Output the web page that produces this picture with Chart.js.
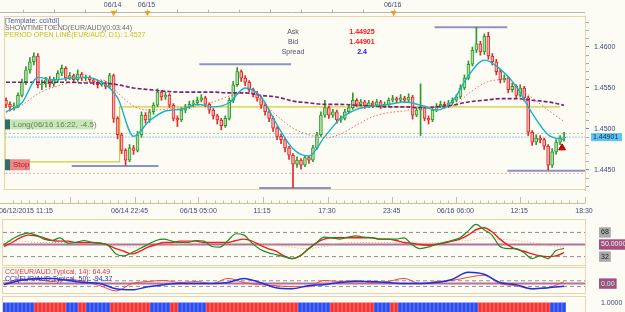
<!DOCTYPE html>
<html>
<head>
<meta charset="utf-8">
<script src="https://cdn.jsdelivr.net/npm/chart.js@4.4.1/dist/chart.umd.min.js"></script>
<style>
html, body { margin: 0; padding: 0; width: 625px; height: 312px; overflow: hidden; background: #fdfcf4; font-family: "Liberation Sans", Arial, sans-serif; }
canvas { position: absolute; left: 0; }
.t { position: absolute; font-size: 7px; line-height: 8px; white-space: nowrap; }
.c { text-align: center; }
</style>
</head>
<body>
<canvas id="main" width="625" height="216" style="top:0"></canvas>
<canvas id="tdi" width="625" height="47" style="top:219px"></canvas>
<canvas id="cci" width="625" height="27" style="top:267px"></canvas>
<canvas id="strip" width="625" height="24" style="top:296px"></canvas>

<div class="t" style="left:5px;top:17px;color:#4a58a8">[Template: cci/tdi]</div>
<div class="t" style="left:5px;top:24px;color:#6a6a6a">SHOWTIMETOEND(EUR/AUD)(0:03:44)</div>
<div class="t" style="left:5px;top:31px;color:#c4bf12">PERIOD OPEN LINE(EUR/AUD, D1): 1.4527</div>
<div class="t c" style="left:273px;width:40px;top:28px;color:#505068">Ask</div>
<div class="t c" style="left:273px;width:40px;top:38px;color:#505068">Bid</div>
<div class="t c" style="left:273px;width:40px;top:48px;color:#505068">Spread</div>
<div class="t c" style="left:337px;width:50px;top:28px;color:#ff1414;font-weight:bold">1.44925</div>
<div class="t c" style="left:337px;width:50px;top:38px;color:#ff1414;font-weight:bold">1.44901</div>
<div class="t c" style="left:337px;width:50px;top:48px;color:#1414ff;font-weight:bold">2.4</div>
<div class="t" style="left:5px;top:268px;color:#e03434">CCI(EUR/AUD,Typical, 14): 64.49</div>
<div class="t" style="left:5px;top:275px;color:#2233c8">CCI(EUR/AUD,Typical, 50): -94.37</div>

<script>
// data (M15 candles, one every 4 px)

const firstOpen = 1.4535;
const closes = [
  1.4530,1.4527,1.4528,1.4541,1.4557,1.4572,1.4582,1.4589,1.4554,1.4555,
  1.4560,1.4555,1.4560,1.4568,1.4574,1.4562,1.4565,1.4560,1.4567,1.4562,
  1.4563,1.4560,1.4557,1.4554,1.4556,1.4552,1.4565,1.4513,1.4493,1.4474,
  1.4462,1.4477,1.4474,1.4493,1.4517,1.4511,1.4521,1.4529,1.4545,1.4539,
  1.4541,1.4529,1.4513,1.4511,1.4523,1.4527,1.4530,1.4532,1.4535,1.4538,
  1.4530,1.4523,1.4516,1.4511,1.4504,1.4513,1.4535,1.4554,1.4570,1.4562,
  1.4557,1.4548,1.4543,1.4538,1.4529,1.4521,1.4513,1.4501,1.4491,1.4487,
  1.4477,1.4468,1.4457,1.4462,1.4456,1.4465,1.4462,1.4477,1.4493,1.4517,
  1.4526,1.4517,1.4521,1.4511,1.4513,1.4521,1.4526,1.4535,1.4530,1.4533,
  1.4528,1.4532,1.4529,1.4533,1.4528,1.4530,1.4535,1.4537,1.4535,1.4538,
  1.4535,1.4539,1.4517,1.4523,1.4526,1.4513,1.4511,1.4523,1.4528,1.4530,
  1.4528,1.4532,1.4535,1.4539,1.4550,1.4562,1.4579,1.4596,1.4604,1.4594,
  1.4613,1.4589,1.4582,1.4570,1.4560,1.4562,1.4548,1.4552,1.4541,1.4550,
  1.4538,1.4496,1.4484,1.4489,1.4487,1.4479,1.4456,1.4472,1.4484,1.4489,
  1.4490
];
const highs = [
  1.4538,1.4533,1.4532,1.4544,1.4561,1.4576,1.4587,1.4593,1.4592,1.4560,
  1.4563,1.4564,1.4563,1.4571,1.4578,1.4576,1.4569,1.4567,1.4572,1.4569,
  1.4566,1.4565,1.4562,1.4559,1.4559,1.4558,1.4568,1.4567,1.4515,1.4495,
  1.4476,1.4481,1.4480,1.4497,1.4521,1.4520,1.4524,1.4532,1.4549,1.4547,
  1.4545,1.4543,1.4531,1.4516,1.4526,1.4530,1.4534,1.4535,1.4539,1.4542,
  1.4540,1.4532,1.4525,1.4518,1.4513,1.4516,1.4538,1.4558,1.4575,1.4572,
  1.4565,1.4559,1.4550,1.4546,1.4540,1.4531,1.4523,1.4515,1.4503,1.4494,
  1.4489,1.4479,1.4470,1.4466,1.4464,1.4468,1.4467,1.4480,1.4496,1.4521,
  1.4535,1.4528,1.4524,1.4523,1.4516,1.4524,1.4529,1.4544,1.4537,1.4536,
  1.4535,1.4535,1.4534,1.4536,1.4535,1.4533,1.4538,1.4541,1.4539,1.4542,
  1.4540,1.4543,1.4541,1.4526,1.4555,1.4528,1.4516,1.4526,1.4531,1.4534,
  1.4533,1.4535,1.4538,1.4542,1.4554,1.4566,1.4583,1.4600,1.4624,1.4607,
  1.4616,1.4618,1.4592,1.4585,1.4573,1.4566,1.4564,1.4556,1.4554,1.4554,
  1.4552,1.4540,1.4498,1.4493,1.4492,1.4489,1.4481,1.4476,1.4487,1.4492,
  1.4496
];
const lows = [
  1.4526,1.4522,1.4523,1.4526,1.4539,1.4554,1.4568,1.4578,1.4550,1.4548,
  1.4551,1.4551,1.4552,1.4557,1.4565,1.4559,1.4560,1.4557,1.4558,1.4559,
  1.4559,1.4557,1.4554,1.4550,1.4552,1.4549,1.4550,1.4508,1.4488,1.4470,
  1.4456,1.4460,1.4469,1.4472,1.4490,1.4507,1.4508,1.4518,1.4527,1.4535,
  1.4536,1.4526,1.4510,1.4503,1.4509,1.4520,1.4525,1.4527,1.4529,1.4533,
  1.4527,1.4519,1.4512,1.4506,1.4499,1.4502,1.4511,1.4532,1.4552,1.4558,
  1.4553,1.4545,1.4539,1.4534,1.4525,1.4517,1.4509,1.4497,1.4487,1.4482,
  1.4472,1.4463,1.4428,1.4453,1.4451,1.4454,1.4458,1.4460,1.4475,1.4491,
  1.4514,1.4513,1.4514,1.4507,1.4508,1.4511,1.4519,1.4524,1.4527,1.4528,
  1.4525,1.4526,1.4526,1.4527,1.4525,1.4526,1.4528,1.4533,1.4532,1.4533,
  1.4532,1.4533,1.4512,1.4515,1.4492,1.4510,1.4506,1.4509,1.4521,1.4526,
  1.4525,1.4526,1.4530,1.4533,1.4537,1.4548,1.4560,1.4577,1.4593,1.4590,
  1.4591,1.4585,1.4578,1.4566,1.4556,1.4557,1.4544,1.4545,1.4537,1.4539,
  1.4534,1.4492,1.4480,1.4481,1.4483,1.4475,1.4450,1.4453,1.4469,1.4481,
  1.4485
];

// moving averages, one value every 4 candles
const fastMA = [1.4521,1.4532,1.4563,1.4560,1.4562,1.4563,1.4557,1.4538,1.4491,1.4510,1.4522,1.4524,
  1.4530,1.4527,1.4532,1.4550,1.4539,1.4505,1.4476,1.4467,1.4491,1.4513,1.4524,1.4528,
  1.4530,1.4533,1.4529,1.4523,1.4534,1.4565,1.4584,1.4573,1.4552,1.4519,1.4493,1.4487];
const midMA = [1.4520,1.4529,1.4543,1.4551,1.4556,1.4557,1.4560,1.4544,1.4528,1.4523,1.4524,1.4526,
  1.4528,1.4533,1.4540,1.4544,1.4534,1.4516,1.4501,1.4493,1.4489,1.4494,1.4505,1.4515,
  1.4520,1.4522,1.4526,1.4526,1.4528,1.4543,1.4556,1.4560,1.4552,1.4538,1.4523,1.4509];
const slowMA = [1.4557,1.4557,1.4557,1.4557,1.4557,1.4556,1.4556,1.4554,1.4550,1.4548,1.4546,1.4545,
  1.4545,1.4545,1.4544,1.4544,1.4541,1.4539,1.4534,1.4532,1.4530,1.4530,1.4529,1.4528,
  1.4527,1.4527,1.4526,1.4527,1.4529,1.4533,1.4535,1.4537,1.4537,1.4535,1.4533,1.4529];

// levels on the price window
const periodOpenX = [-0.25, 28.5, 91.5, 139];
const periodOpen = [1.4515, 1.4460, 1.4527, 1.4527];
const srStart = [16.5, 48.5, 63.5, 107.5, 125.75];
const srEnd = [38.25, 71.5, 81.5, 125.75, 145.25];
const srPrice = [1.4455, 1.4579, 1.4428, 1.4624, 1.4449];
const entryPrice = 1.44946;
const bidPrice = 1.44901;
const stopPrice = 1.4446;
const arrowX = 139.5;
const arrowPrice = 1.4477;

// axes
const priceLabels = [1.4450, 1.4500, 1.4550, 1.4600];
const timeLabels = ['06/12/2015 11:15', '06/14 22:45', '06/15 05:00', '11:15', '17:30', '23:45', '06/16 06:00', '12:15', '18:30'];
const timeLabelPos = [5, 31, 48.25, 64.25, 80.5, 96.75, 112.75, 128.75, 145];
const timeMarks = [16, 32.25, 48.25, 64.5, 80.75, 96.75, 113, 129, 145.25];
const dayLabels = ['06/14', '06/15', '06/16'];
const dayMarks = [27, 35.5, 97.25];

// TDI, one value every 2 candles (base line every 4)
const tdiGreen = [50,58,64,67,64,58,56,60,52,53, 56,53,52,49,36,33,38,44,50,56,
  58,55,53,53,56,55,47,46,56,66, 64,52,43,38,35,32,29,33,43,52,
  61,60,58,61,63,61,60,58,58,58, 60,50,44,46,50,53,56,60,70,80,
  72,64,47,44,44,38,29,33,29,41, 44];
const tdiRed = [47,53,60,64,63,60,56,55,55,53, 53,53,52,49,44,40,36,40,46,50,
  53,53,55,55,55,53,53,53,53,56, 58,55,49,44,40,33,29,33,43,52,
  58,60,60,60,60,60,60,58,58,56, 53,52,50,49,50,52,55,58,64,72,
  75,69,58,49,43,40,36,33,32,33, 38];
const tdiBase = [55,55,53,53,53,53,52,49,46,47,49,50,52,52,52,52,50,49,46,44,47,52,53,53,53,52,52,53,55,56,60,58,56,53,49,46];
const tdiLevels = [32, 50, 68];

// CCI, one value every 4 candles
const cci14 = [0,148,148,74,148,74,-74,-260,0,74,111,37,74,0,185,37,-37,-74,-111,-111,111,74,111,37,74,185,0,74,111,222,296,0,-74,-185,-148,64];
const cci50 = [-37,111,185,185,111,37,0,-185,-222,-111,-37,0,0,0,37,185,37,-148,-185,-74,-37,37,74,74,37,0,0,37,148,400,330,37,-37,-185,-148,-94];

// trend strip: 1 = blue, 0 = red
const strip = [
  1,1,1,1,1,1,1,1,0,0, 0,0,0,0,0,0,1,1,1,0, 0,1,1,1,1,1,1,0,0,0,
  0,0,0,0,0,0,0,1,1,1, 1,1,0,0,1,1,1,1,1,1, 1,0,0,0,0,0,0,0,0,0,
  0,0,0,0,0,0,0,0,0,0, 0,0,0,0,1,1,1,1,1,1, 1,1,0,0,0,0,0,0,0,0,
  0,0,0,1,1,1,1,0,0,1, 1,1,1,1,1,1,1,1,1,1, 1,1,1,1,1,1,1,1,1,0,
  0,0,0,0,0,0,0,0,0,0, 0,0,0,0,0,0,0,1,1,1, 1
];

// setup

const FONT = '"Liberation Sans", Arial, sans-serif';
const AXIS_COL = '#3b4a7a';
const FRAME_COL = '#e6d5ad';
const xMin = -0.25, xMax = 145.25;

Chart.defaults.font.family = FONT;
Chart.defaults.font.size = 7;

const opens = closes.map((c, i) => i === 0 ? firstOpen : closes[i - 1]);
const isUp = closes.map((c, i) => c >= opens[i]);

const pts = (vals, step) => vals.map((v, k) => ({x: k * step, y: v}));
const flat = v => [{x: xMin, y: v}, {x: xMax, y: v}];
const lineDs = (data, color, width, dash, order, extra) => Object.assign({
  type: 'line', data, borderColor: color, borderWidth: width, borderDash: dash || [],
  pointRadius: 0, fill: false, tension: 0, order
}, extra || {});

// fixed axis sizes, no extra label padding around the plot
const fixSize = (w, h) => s => {
  if (w !== null) s.width = w;
  if (h !== null) s.height = h;
  s.paddingTop = 0; s.paddingBottom = 0; s.paddingLeft = 0; s.paddingRight = 0;
};

const baseOptions = {
  animation: false,
  responsive: false,
  devicePixelRatio: 1,
  events: [],
  layout: {padding: {left: 3, right: 0, top: 0, bottom: 0}},
  plugins: {legend: {display: false}, tooltip: {enabled: false}}
};

const panelFrame = {
  id: 'panelFrame',
  beforeDatasetsDraw(chart) {
    const {ctx, chartArea: a} = chart;
    ctx.save();
    ctx.strokeStyle = FRAME_COL;
    ctx.lineWidth = 1;
    ctx.strokeRect(a.left - 0.5, a.top + 0.5, a.right - a.left + 1, a.bottom - a.top - 1);
    ctx.restore();
  }
};

const mainDecor = {
  id: 'mainDecor',
  afterDraw(chart) {
    const {ctx, chartArea: a, scales: {x, y}} = chart;
    ctx.save();

    // top day strip
    ctx.strokeStyle = '#bdb5a3';
    ctx.lineWidth = 1;
    ctx.beginPath();
    ctx.moveTo(0, 12.5);
    ctx.lineTo(a.right, 12.5);
    for (let v = dayMarks[2]; v > xMin; v -= 7.75) {
      const px = Math.round(x.getPixelForValue(v)) + 0.5;
      ctx.moveTo(px, 12.5);
      ctx.lineTo(px, 9.5);
    }
    ctx.stroke();
    ctx.fillStyle = '#f29a1c';
    dayMarks.forEach(v => {
      const px = x.getPixelForValue(v);
      ctx.beginPath();
      ctx.moveTo(px - 3, 11);
      ctx.lineTo(px + 3, 11);
      ctx.lineTo(px, 16);
      ctx.closePath();
      ctx.fill();
    });
    ctx.font = '7px ' + FONT;
    ctx.fillStyle = AXIS_COL;
    ctx.textAlign = 'center';
    ctx.textBaseline = 'middle';
    dayMarks.forEach((v, k) => ctx.fillText(dayLabels[k], x.getPixelForValue(v) - 1, 5.5));

    // bottom time strip
    ctx.strokeStyle = '#cdbf9f';
    ctx.beginPath();
    ctx.moveTo(0, 203.5);
    ctx.lineTo(a.right, 203.5);
    let prev = xMin;
    timeMarks.forEach(v => {
      const px = Math.round(x.getPixelForValue(v)) + 0.5;
      ctx.moveTo(px, 203.5);
      ctx.lineTo(px, 197);
      const step = (v - prev) / 8;
      for (let k = 1; k < 8; k++) {
        const mx = Math.round(x.getPixelForValue(prev + k * step)) + 0.5;
        ctx.moveTo(mx, 203.5);
        ctx.lineTo(mx, 200.5);
      }
      prev = v;
    });
    ctx.stroke();
    timeLabelPos.forEach((v, k) => ctx.fillText(timeLabels[k], x.getPixelForValue(v), 211.5));

    // order labels
    ctx.textAlign = 'left';
    const yE = y.getPixelForValue(entryPrice);
    ctx.fillStyle = 'rgba(172, 218, 150, 0.65)';
    ctx.fillRect(10, yE - 14, 83, 10);
    ctx.fillStyle = '#2f6c6c';
    ctx.fillRect(5, yE - 14, 5, 10);
    ctx.font = '8px ' + FONT;
    ctx.fillStyle = '#62805f';
    ctx.fillText('Long(06/16 16:22, -4.5)', 13, yE - 8.5);

    const yS = y.getPixelForValue(stopPrice);
    ctx.fillStyle = '#ee8686';
    ctx.fillRect(10, yS - 14, 20, 11);
    ctx.fillStyle = '#2f6c6c';
    ctx.fillRect(5, yS - 14, 5, 11);
    ctx.fillStyle = '#a82a2a';
    ctx.fillText('Stop', 13, yS - 8.5);

    // bid price tag
    const yB = y.getPixelForValue(bidPrice);
    ctx.fillStyle = '#5cc6f0';
    ctx.fillRect(591, yB - 4, 31, 8);
    ctx.font = '7px ' + FONT;
    ctx.fillStyle = '#1a2a5a';
    ctx.fillText('1.44901', 593, yB);
    ctx.restore();
  }
};

// main price window

const mainDatasets = [
  lineDs(flat(entryPrice), '#a9c6a0', 1, [2, 2], 5),
  lineDs(flat(bidPrice), '#8fd0f0', 1, [2, 1], 5),
  lineDs(flat(stopPrice), '#f2a0a0', 1, [2, 2], 5),
  lineDs(periodOpenX.map((v, k) => ({x: v, y: periodOpen[k]})), '#d6cb33', 1.2, null, 5, {stepped: 'after'}),
  ...srStart.map((s, k) => lineDs([{x: s, y: srPrice[k]}, {x: srEnd[k], y: srPrice[k]}], '#8b94c0', 2, null, 5)),
  {
    type: 'bar',
    data: closes.map((c, i) => ({x: i, y: [lows[i], highs[i]]})),
    backgroundColor: isUp.map(u => u ? '#2c9a2c' : '#e02828'),
    barThickness: 1, grouped: false, order: 3
  },
  {
    type: 'bar',
    data: closes.map((c, i) => ({x: i, y: [opens[i], c]})),
    backgroundColor: isUp.map(u => u ? '#b2dfa6' : '#f6b2b2'),
    borderColor: isUp.map(u => u ? '#2c9a2c' : '#e02828'),
    borderWidth: 1, borderSkipped: false, minBarLength: 1,
    barThickness: 3, grouped: false, order: 2
  },
  lineDs(pts(slowMA, 4), '#7b1f78', 1.6, [4, 2], 1, {cubicInterpolationMode: 'monotone', tension: 0.4}),
  lineDs(pts(midMA, 4), '#ff6464', 1, [1.5, 2], 1, {cubicInterpolationMode: 'monotone', tension: 0.4}),
  lineDs(pts(fastMA, 4), '#17b2c6', 1.4, null, 0, {cubicInterpolationMode: 'monotone', tension: 0.4}),
  {
    type: 'line', showLine: false, order: 0,
    data: [{x: arrowX, y: arrowPrice}],
    pointStyle: 'triangle', pointRadius: 4,
    backgroundColor: '#e00000', borderColor: '#9a0000', borderWidth: 1
  }
];

new Chart(document.getElementById('main'), {
  type: 'bar',
  data: {datasets: mainDatasets},
  options: Object.assign({}, baseOptions, {
    scales: {
      x: {
        type: 'linear', min: xMin, max: xMax, offset: false, position: 'bottom',
        grid: {display: false}, border: {display: false},
        ticks: {display: false},
        afterFit: fixSize(null, 26)
      },
      x2: {
        type: 'linear', min: xMin, max: xMax, offset: false, position: 'top',
        grid: {display: false}, border: {display: false},
        ticks: {display: false},
        afterFit: fixSize(null, 16)
      },
      y: {
        position: 'right', min: 1.44256, max: 1.46378,
        grid: {drawOnChartArea: false, drawTicks: true, tickLength: 4,
          color: c => priceLabels.some(p => Math.abs(p - c.tick.value) < 1e-6) ? '#7a80a0' : '#a8a8b8'},
        border: {display: true, color: '#b9b1a0'},
        afterBuildTicks: s => {
          const t = [];
          for (let k = 1443; k <= 1463; k++) t.push({value: k / 1000});
          s.ticks = t;
        },
        afterFit: fixSize(40, null),
        ticks: {autoSkip: false, padding: 5, color: AXIS_COL,
          callback: v => priceLabels.some(p => Math.abs(p - v) < 1e-6) ? v.toFixed(4) : ''}
      }
    }
  }),
  plugins: [panelFrame, mainDecor]
});

// TDI window

new Chart(document.getElementById('tdi'), {
  type: 'line',
  data: {datasets: [
    lineDs(flat(68), '#8e8e8e', 1, [4, 3], 3),
    lineDs(flat(32), '#8e8e8e', 1, [4, 3], 3),
    lineDs(flat(50), '#b27196', 2, null, 3),
    lineDs(pts(tdiBase, 4), '#f5a868', 1, [1, 2], 2, {tension: 0.4, cubicInterpolationMode: 'monotone'}),
    lineDs(pts(tdiRed, 2), '#f01c1c', 1.4, null, 1, {tension: 0.4, cubicInterpolationMode: 'monotone'}),
    lineDs(pts(tdiGreen, 2), '#1f8a1f', 1.2, null, 0, {tension: 0.4, cubicInterpolationMode: 'monotone'})
  ]},
  options: Object.assign({}, baseOptions, {
    scales: {
      x: {type: 'linear', min: xMin, max: xMax, display: false},
      y: {
        position: 'right', min: 18, max: 88,
        grid: {display: false}, border: {display: false},
        afterBuildTicks: s => { s.ticks = tdiLevels.map(v => ({value: v})); },
        afterFit: fixSize(40, null),
        ticks: {
          autoSkip: false, padding: 8, showLabelBackdrop: true, backdropPadding: {x: 2, y: 1},
          backdropColor: c => c.tick.value === 50 ? '#a3507c' : '#a9a9a9',
          color: c => c.tick.value === 50 ? '#eef6ff' : '#262626',
          callback: v => v === 50 ? '50.0000' : String(v)
        }
      }
    }
  }),
  plugins: [panelFrame]
});

// CCI window

new Chart(document.getElementById('cci'), {
  type: 'line',
  data: {datasets: [
    lineDs(flat(100), '#8e8e8e', 1, [4, 3], 3),
    lineDs(flat(-100), '#8e8e8e', 1, [4, 3], 3),
    lineDs(flat(0), '#b27196', 2, null, 3),
    lineDs(pts(cci14, 4), '#f04545', 1, null, 1, {tension: 0.3, cubicInterpolationMode: 'monotone'}),
    lineDs(pts(cci50, 4), '#1c30e6', 1.5, null, 0, {tension: 0.4, cubicInterpolationMode: 'monotone'})
  ]},
  options: Object.assign({}, baseOptions, {
    scales: {
      x: {type: 'linear', min: xMin, max: xMax, display: false},
      y: {
        position: 'right', min: -370, max: 590,
        grid: {display: false}, border: {display: false},
        afterBuildTicks: s => { s.ticks = [{value: 0}]; },
        afterFit: fixSize(40, null),
        ticks: {
          padding: 8, showLabelBackdrop: true, backdropPadding: {x: 2, y: 1},
          backdropColor: '#a3507c', color: '#a8ffff',
          callback: () => '0.00'
        }
      }
    }
  }),
  plugins: [panelFrame]
});

// trend strip

new Chart(document.getElementById('strip'), {
  type: 'bar',
  data: {datasets: [{
    data: strip.map((d, i) => ({x: i, y: 1})),
    backgroundColor: strip.map(d => d ? '#2b4cf0' : '#f23434'),
    barThickness: 3, grouped: false
  }]},
  options: Object.assign({}, baseOptions, {
    scales: {
      x: {type: 'linear', min: xMin, max: xMax, offset: false, display: false},
      y: {
        position: 'right', min: 0, max: 1.4,
        grid: {display: false}, border: {display: false},
        afterBuildTicks: s => { s.ticks = [{value: 1}]; },
        afterFit: fixSize(40, null),
        ticks: {padding: 8, color: AXIS_COL, callback: () => '1.0000'}
      }
    }
  }),
  plugins: [panelFrame]
});
</script>
</body>
</html>
